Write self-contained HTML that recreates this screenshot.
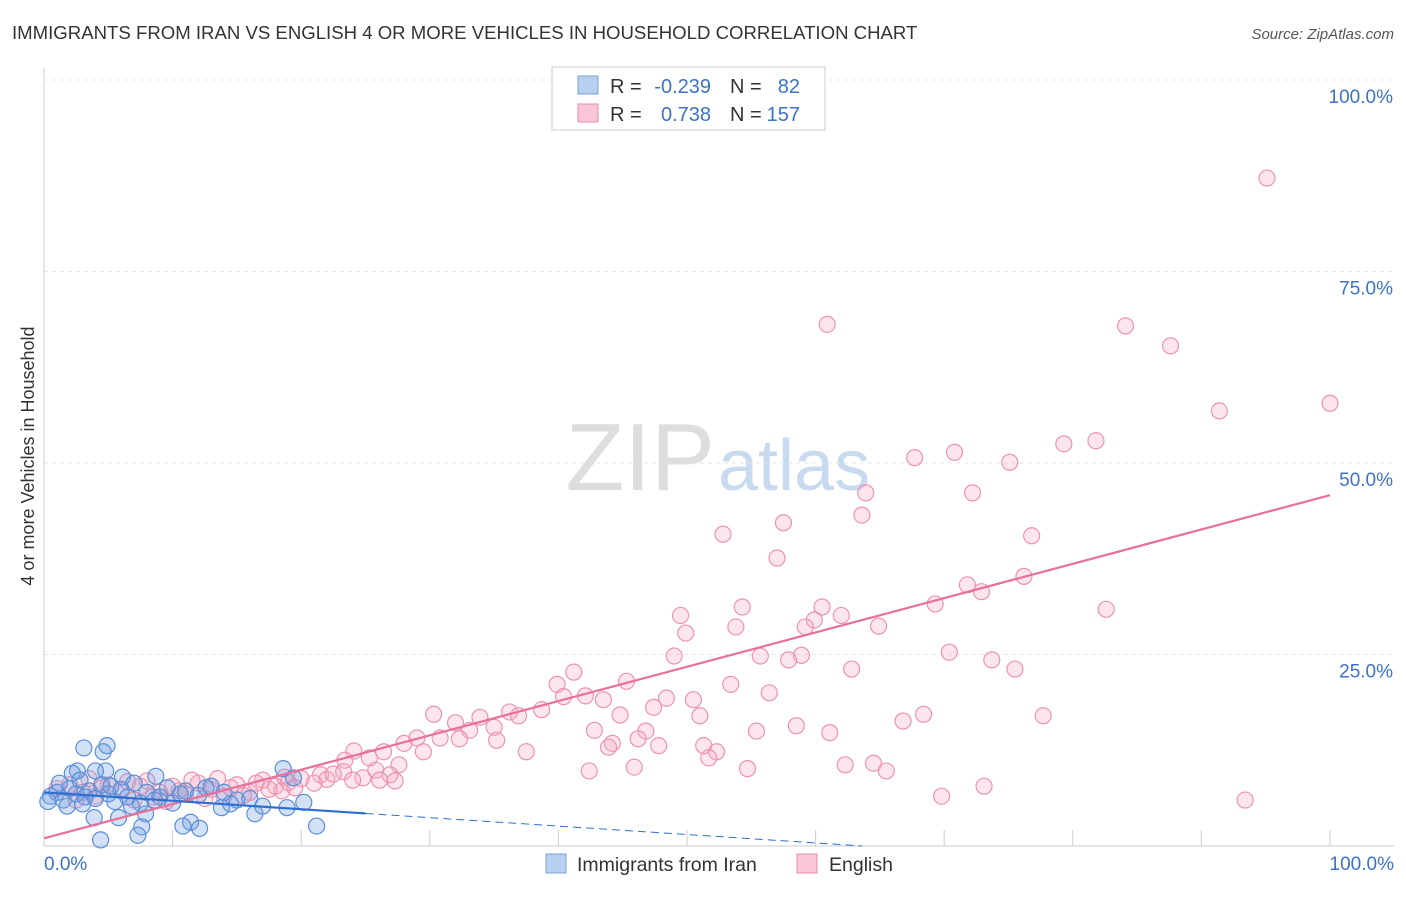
<!DOCTYPE html>
<html><head><meta charset="utf-8"><style>
body{margin:0;background:#fff;font-family:"Liberation Sans",sans-serif;}
svg text{font-family:"Liberation Sans",sans-serif;}
</style></head><body>
<svg id="c" width="1406" height="892">
<text x="12" y="39" font-size="18.6" fill="#333">IMMIGRANTS FROM IRAN VS ENGLISH 4 OR MORE VEHICLES IN HOUSEHOLD CORRELATION CHART</text>
<text x="1394" y="39" font-size="15" fill="#555" font-style="italic" text-anchor="end">Source: ZipAtlas.com</text>
<text x="34" y="456" font-size="18" fill="#333" text-anchor="middle" transform="rotate(-90 34 456)">4 or more Vehicles in Household</text>
<text x="715" y="490" font-size="96" fill="#ddd" text-anchor="end" font-family="Liberation Serif">ZIP</text>
<text x="718" y="490" font-size="72" fill="#c8daf0">atlas</text>
<g id="grid"></g><g id="pts"></g><g id="lines"></g>
<g>
<rect x="552" y="67" width="273" height="63" fill="#fff" stroke="#ccc"/>
<rect x="578" y="76" width="20" height="18" fill="#b8d0f0" stroke="#7aa3dc"/>
<rect x="578" y="104" width="20" height="18" fill="#f8c6d6" stroke="#e88eab"/>
<text x="610" y="93" font-size="20" fill="#333">R =</text>
<text x="711" y="93" font-size="20" fill="#3d72c9" text-anchor="end">-0.239</text>
<text x="730" y="93" font-size="20" fill="#333">N =</text>
<text x="800" y="93" font-size="20" fill="#3d72c9" text-anchor="end">82</text>
<text x="610" y="121" font-size="20" fill="#333">R =</text>
<text x="711" y="121" font-size="20" fill="#3d72c9" text-anchor="end">0.738</text>
<text x="730" y="121" font-size="20" fill="#333">N =</text>
<text x="800" y="121" font-size="20" fill="#3d72c9" text-anchor="end">157</text>
</g>
<g>
<rect x="546" y="854" width="20" height="19" fill="#b8d0f0" stroke="#7aa3dc"/>
<text x="577" y="871" font-size="19.5" fill="#333">Immigrants from Iran</text>
<rect x="797" y="854" width="20" height="19" fill="#f8c6d6" stroke="#e88eab"/>
<text x="829" y="871" font-size="19.5" fill="#333">English</text>
</g>
</svg>
<script>
const yTicks=[25,50,75,100];
const yTickLabels=["25.0%","50.0%","75.0%","100.0%"];
const xTickLabels=["0.0%","100.0%"];
const pinkX=[95.1,60.9,84.1,87.6,91.4,100,79.3,81.8,70.8,67.7,75.1,63.9,72.2,63.6,57.5,52.8,76.8,57.0,76.2,71.8,72.9,54.3,60.5,49.5,59.9,62.0,69.3,82.6,49.9,53.8,64.9,59.2,55.7,57.9,58.9,70.4,73.7,49.0,62.8,75.5,41.2,45.3,39.9,53.4,40.4,42.1,48.4,50.5,56.4,43.5,36.2,38.7,47.4,51.0,44.8,33.9,36.9,30.3,68.4,66.8,77.7,58.5,32.0,42.8,35.0,46.8,33.1,55.4,46.2,32.3,44.2,61.1,29.0,30.8,28.0,35.2,43.9,47.8,51.3,24.1,26.4,25.3,52.3,37.5,29.5,23.4,51.7,64.5,62.3,42.4,45.9,54.7,65.5,27.6,23.3,26.9,25.8,24.8,26.1,27.3,21.5,22.0,18.7,69.8,73.1,93.4,1,2,3,4,5,6,7,8,9,10,11,12,13,14,15,16,17,18,19,20,2.5,4.5,6.5,8.5,10.5,12.5,14.5,16.5,18.5,9.5,11.5,13.5,15.5,17.5,19.5,21,22.5,24,3.5,7.5];
const pinkY=[87.2,68.1,67.9,65.3,56.8,57.8,52.5,52.9,51.4,50.7,50.1,46.1,46.1,43.2,42.2,40.7,40.5,37.6,35.2,34.1,33.2,31.2,31.2,30.1,29.5,30.1,31.6,30.9,27.8,28.6,28.7,28.6,24.8,24.3,24.9,25.3,24.3,24.8,23.1,23.1,22.7,21.5,21.1,21.1,19.5,19.6,19.3,19.1,20.0,19.1,17.5,17.8,18.1,17.0,17.1,16.8,17.0,17.2,17.2,16.3,17.0,15.7,16.1,15.1,15.5,15.0,15.1,15.0,14.0,14.0,13.4,14.8,14.1,14.1,13.4,13.8,12.9,13.1,13.1,12.4,12.3,11.5,12.3,12.3,12.3,11.2,11.5,10.8,10.6,9.8,10.3,10.1,9.8,10.6,9.7,9.3,9.9,8.9,8.6,8.5,9.3,8.7,9.0,6.5,7.8,6.0,7.5,8,7,6.5,8,7.2,6,8.5,7,7.8,6.8,8.2,7.4,6.5,8,7,8.6,7.8,8.3,8.8,6,7.6,8.4,6.4,7.2,6.2,7.6,8.2,7.2,5.8,8.6,8.8,6.6,7.4,7.6,8.2,9.4,8.6,8.8,7.8];
const blueX=[3.1,4.9,4.6,8.7,18.6,19.4,4.8,2.6,4.0,6.1,2.2,21.2,11.4,12.1,10.8,7.6,7.9,14.5,20.2,18.9,16.4,13.8,4.4,7.3,5.8,3.9,0.5,1,1.5,2,2.5,3,3.5,4,4.5,5,5.5,6,6.5,7,7.5,8,9,10,11,12,13,14,15,1.2,2.8,0.3,1.8,3.2,5.2,6.8,8.6,9.6,10.6,12.6,16,17];
const blueY=[12.8,13.1,12.3,9.1,10.1,8.9,9.8,9.8,9.8,9.0,9.5,2.6,3.1,2.3,2.6,2.5,4.2,5.5,5.7,5.0,4.2,5.0,0.8,1.4,3.7,3.7,6.5,7,6,7.5,6.8,5.5,7.2,6.2,8,6.8,5.8,7.4,6.4,8.2,5.6,7,6.4,5.6,7.2,6.6,7.8,7,6,8.2,8.6,5.8,5.2,6.4,7.8,5.2,6,7.6,6.8,7.6,6.2,5.2];
const pinkTrend=[1.0,45.8];   // y at x=0 and x=100
const blueTrend=[7.0,-0.11];  // intercept, slope
const NS="http://www.w3.org/2000/svg";
const X=v=>44+v*12.86, Y=v=>846-v*7.66;
function mk(t,a,p){const e=document.createElementNS(NS,t);for(const k in a)e.setAttribute(k,a[k]);p.appendChild(e);return e;}
const grid=document.getElementById('grid');
const ax=mk('line',{x1:44,y1:68,x2:44,y2:846,stroke:'#ccc'},grid);


yTicks.forEach((t,i)=>{
 const l=mk('line',{x1:44,y1:Y(t),x2:1394,y2:Y(t),stroke:'#e4e4e4','stroke-dasharray':'4,4'},grid);
 
 
 const tx=mk('text',{x:1393,y:Y(t)+23,'font-size':19,fill:'#3d72c9','text-anchor':'end'},grid);tx.textContent=yTickLabels[i];
 
 
});
for(let i=0;i<=10;i++){const t=mk('line',{x1:X(i*10),y1:830,x2:X(i*10),y2:846,stroke:'#ccc'},grid);
 
 }
const bl=mk('line',{x1:44,y1:846,x2:1394,y2:846,stroke:'#ccc'},grid);


[[0,'start',44],[100,'end',1394]].forEach((o,i)=>{const tx=mk('text',{x:o[2],y:870,'font-size':19,fill:'#3d72c9','text-anchor':o[1]},grid);tx.textContent=xTickLabels[i];
 
 });
const pts=document.getElementById('pts');
pinkX.forEach((x,i)=>{const c=mk('circle',{cx:X(x),cy:Y(pinkY[i]),r:8,fill:'rgba(244,170,195,0.3)',stroke:'#eb94b1','stroke-width':1.2},pts);
 
 });
blueX.forEach((x,i)=>{const c=mk('circle',{cx:X(x),cy:Y(blueY[i]),r:8,fill:'rgba(110,155,225,0.3)',stroke:'#5b8fd6','stroke-width':1.2},pts);
 
 });
const lg=document.getElementById('lines');
const pl=mk('line',{x1:X(0),y1:Y(pinkTrend[0]),x2:X(100),y2:Y(pinkTrend[1]),stroke:'#e8709a','stroke-width':2.2},lg);


const bs=mk('line',{x1:X(0),y1:Y(blueTrend[0]),x2:X(25),y2:Y(blueTrend[0]+blueTrend[1]*25),stroke:'#2f6fd0','stroke-width':2.2},lg);


const xe=-blueTrend[0]/blueTrend[1];
const bd=mk('line',{x1:X(25),y1:Y(blueTrend[0]+blueTrend[1]*25),x2:X(xe),y2:Y(0),stroke:'#2f6fd0','stroke-width':1,'stroke-dasharray':'8,5'},lg);


</script>
</body></html>
